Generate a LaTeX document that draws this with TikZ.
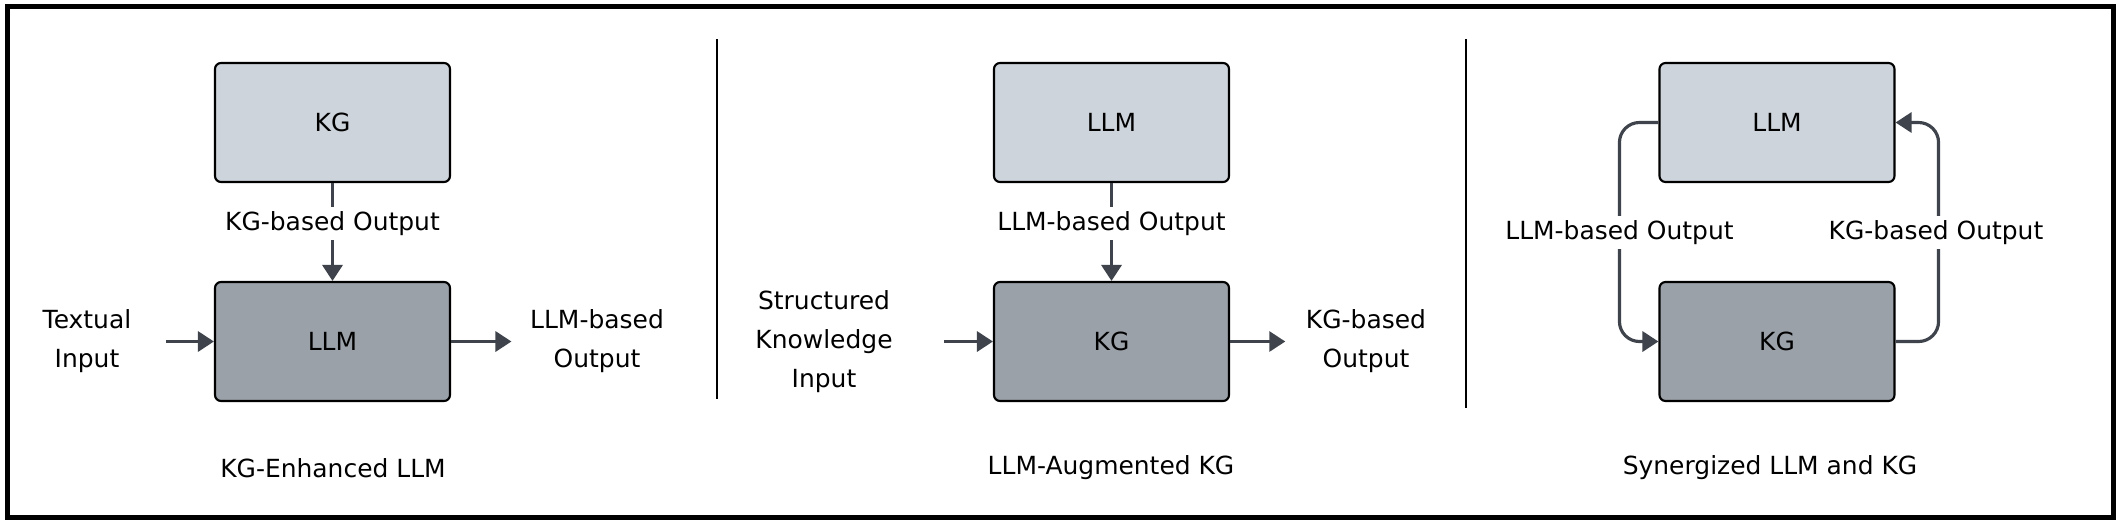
\documentclass[tikz,border=0pt]{standalone}
\usepackage{fontspec}
\setmainfont{DejaVu Sans}
\usetikzlibrary{arrows.meta}
\definecolor{boxlight}{RGB}{206,212,219}
\definecolor{boxdark}{RGB}{155,161,169}
\definecolor{arrgray}{RGB}{63,68,76}

\begin{document}
\begin{tikzpicture}[font=\fontsize{7.1}{11.1}\selectfont, blk/.style={draw=black, line width=0.6pt, rounded corners=0.06cm, minimum width=2.35cm, minimum height=1.19cm}, upper/.style={blk, fill=boxlight}, lower/.style={blk, fill=boxdark}, arr/.style={-{Triangle[length=0.16cm, width=0.2cm]}, line width=0.9pt, arrgray}, lbl/.style={fill=white, inner sep=0.045cm}, side/.style={align=center}, sep/.style={line width=0.65pt}]
\useasboundingbox (0,0) rectangle (21.21,5.24); \fill[white] (0,0) rectangle (21.21,5.24); \draw[line width=0.05cm] (0.075,0.065) rectangle (21.135,5.175);
\node[upper] (kg1) at (3.325,4.015) {KG}; \node[lower] (llm1) at (3.325,1.825) {LLM}; \node[side, inner xsep=0.34cm] (in1) at (0.87,1.825) {Textual\\Input}; \node[side, inner xsep=0.18cm] (out1) at (5.97,1.825) {LLM-based\\Output};
\node[upper] (llm2) at (11.115,4.015) {LLM}; \node[lower] (kg2) at (11.115,1.825) {KG}; \node[side, inner xsep=0.51cm] (in2) at (8.24,1.825) {Structured\\Knowledge\\Input}; \node[side, inner xsep=0.2cm] (out2) at (13.66,1.825) {KG-based\\Output};
\node[upper] (llm3) at (17.77,4.015) {LLM}; \node[lower] (kg3) at (17.77,1.825) {KG};
\draw[sep] (7.17,4.85) -- (7.17,1.25); \draw[sep] (14.66,4.85) -- (14.66,1.16);
\draw[arr] (kg1) -- (llm1); \draw[arr] (in1) -- (llm1); \draw[arr] (llm1) -- (out1); \draw[arr] (llm2) -- (kg2); \draw[arr] (in2) -- (kg2); \draw[arr] (kg2) -- (out2);
\draw[arr, rounded corners=0.2cm] (llm3.west) -- ++(-0.39,0) |- (kg3.west); \draw[arr, rounded corners=0.2cm] (kg3.east) -- ++(0.43,0) |- (llm3.east);
\node[lbl] (kgout1) at (3.325,3.005) {KG-based Output}; \node[lbl] (llmout2) at (11.115,3.005) {LLM-based Output}; \node[lbl] (llmout3) at (16.195,2.915) {LLM-based Output}; \node[lbl] (kgout3) at (19.36,2.915) {KG-based Output};
\node (cap1) at (3.33,0.56) {KG-Enhanced LLM}; \node (cap2) at (11.11,0.56) {LLM-Augmented KG}; \node (cap3) at (17.70,0.56) {Synergized LLM and KG};
\end{tikzpicture}
\end{document}
